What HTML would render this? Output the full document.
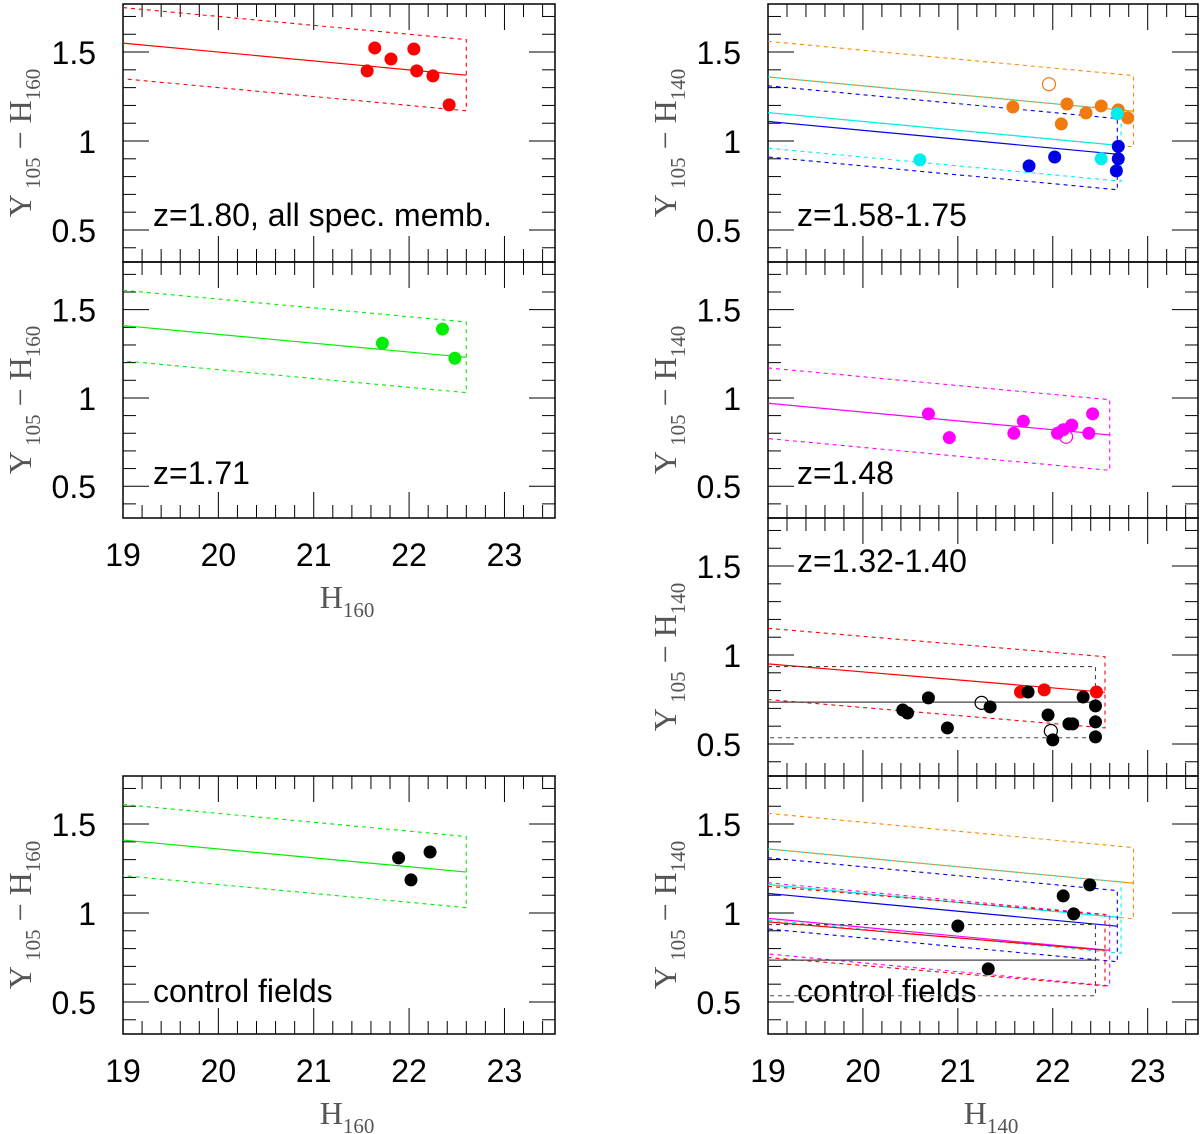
<!DOCTYPE html>
<html><head><meta charset="utf-8">
<style>
html,body{margin:0;padding:0;background:#fff;}
svg{display:block;}
.tk{font-family:"Liberation Sans",sans-serif;font-size:32px;fill:#000;}
.lab{font-family:"Liberation Serif",serif;fill:#555;}
.pl{font-family:"Liberation Sans",sans-serif;font-size:32px;fill:#000;}
</style></head>
<body>
<svg id="fig" width="1200" height="1134" viewBox="0 0 1200 1134" xmlns="http://www.w3.org/2000/svg"></svg>
<script>
// ---- data ----
const xTicks = [19, 20, 21, 22, 23];
const yTicks = [0.5, 1, 1.5];
const xRange = [19, 23.53];
const yRange = [0.32, 1.77];

// red sequences: [intercept at 19, slope, xEnd, halfWidth]
const seqRed180 = [1.55, -0.05, 22.6, 0.2];
const seqGreen171 = [1.41, -0.05, 22.6, 0.2];
const seqOrange = [1.36, -0.05, 22.85, 0.2];
const seqCyan = [1.16, -0.05, 22.72, 0.2];
const seqBlue = [1.11, -0.05, 22.68, 0.2];
const seqMagenta = [0.97, -0.05, 22.6, 0.2];
const seqRed132 = [0.95, -0.045, 22.55, 0.2];
const seqBlack132 = [0.735, 0, 22.45, 0.2];

const p1x = [21.56, 21.64, 21.81, 22.05, 22.08, 22.25, 22.42];
const p1y = [1.394, 1.523, 1.461, 1.517, 1.394, 1.366, 1.203];

const p2x = [21.72, 22.35, 22.48];
const p2y = [1.31, 1.39, 1.225];

const cLx = [21.89, 22.22, 22.02];
const cLy = [1.31, 1.343, 1.186];

const orX = [21.58, 22.15, 22.09, 22.35, 22.51, 22.69, 22.79];
const orY = [1.191, 1.208, 1.096, 1.158, 1.197, 1.175, 1.13];
const orOpenX = [21.96];
const orOpenY = [1.319];
const cyX = [20.6, 22.51, 22.68];
const cyY = [0.894, 0.9, 1.153];
const blX = [21.75, 22.02, 22.69, 22.69, 22.67];
const blY = [0.86, 0.91, 0.97, 0.9, 0.832];

const mgX = [20.69, 20.91, 21.59, 21.69, 22.05, 22.11, 22.2, 22.38, 22.42];
const mgY = [0.91, 0.775, 0.80, 0.868, 0.80, 0.82, 0.846, 0.80, 0.91];
const mgOpenX = [22.14];
const mgOpenY = [0.78];

const bkX = [20.42, 20.47, 20.69, 20.89, 21.34, 21.74, 21.95, 22.0, 22.17, 22.21, 22.32, 22.45, 22.45, 22.45];
const bkY = [0.691, 0.674, 0.759, 0.59, 0.708, 0.792, 0.663, 0.523, 0.613, 0.613, 0.764, 0.714, 0.624, 0.54];
const bkOpenX = [21.25, 21.98];
const bkOpenY = [0.731, 0.573];
const rdX = [21.66, 21.91, 22.46];
const rdY = [0.792, 0.804, 0.792];

const cRx = [22.39, 22.11, 22.22, 21.0, 21.32];
const cRy = [1.158, 1.096, 0.995, 0.927, 0.686];

// ---- drawing ----
const NS = "http://www.w3.org/2000/svg";
const svg = document.getElementById('fig');
function mk(tag, attrs, parent) {
  const e = document.createElementNS(NS, tag);
  for (const k in attrs) e.setAttribute(k, attrs[k]);
  (parent || svg).appendChild(e);
  return e;
}
function panel(name, x0, y0, x1, y1, opts) {
  const g = mk('g', {});
  
  
  const sx = v => x0 + (v - xRange[0]) / (xRange[1] - xRange[0]) * (x1 - x0);
  const sy = v => y1 - (v - yRange[0]) / (yRange[1] - yRange[0]) * (y1 - y0);
  const P = {g, sx, sy, x0, y0, x1, y1};
  const frame = mk('rect', {x: x0, y: y0, width: x1 - x0, height: y1 - y0, fill: 'none', stroke: '#000', 'stroke-width': 1.5}, g);
  
  
  for (let i = 0; i <= 23; i++) {
    const v = 19 + i * 0.2;
    if (v > xRange[1]) break;
    const major = Math.abs(v - Math.round(v)) < 1e-6;
    const L = major ? 26 : 13;
    const px = sx(v);
    mk('line', {x1: px, y1: y1, x2: px, y2: y1 - L, stroke: '#000', 'stroke-width': 1}, g);
    mk('line', {x1: px, y1: y0, x2: px, y2: y0 + L, stroke: '#000', 'stroke-width': 1}, g);
  }
  for (let i = 0; i <= 15; i++) {
    const v = 0.4 + i * 0.1;
    if (v > yRange[1]) break;
    const major = Math.abs(v * 2 - Math.round(v * 2)) < 1e-6;
    const L = major ? 26 : 13;
    const py = sy(v);
    mk('line', {x1: x0, y1: py, x2: x0 + L, y2: py, stroke: '#000', 'stroke-width': 1}, g);
    mk('line', {x1: x1, y1: py, x2: x1 - L, y2: py, stroke: '#000', 'stroke-width': 1}, g);
  }
  yTicks.forEach(v => {
    const t = mk('text', {x: x0 - 27, y: sy(v) + 12, 'text-anchor': 'end', class: 'tk'}, g);
    t.textContent = String(v);
    
    
  });
  if (opts.xlabels) {
    xTicks.forEach(v => {
      const t = mk('text', {x: sx(v), y: y1 + 48, 'text-anchor': 'middle', class: 'tk'}, g);
      t.textContent = String(v);
      
      
    });
    const xl = mk('text', {x: (sx(21.35)), y: y1 + 90, 'text-anchor': 'middle', class: 'lab', 'font-size': 32}, g);
    xl.innerHTML = 'H<tspan font-size="21" dy="9">' + opts.band + '</tspan>';
    
    
  }
  const cy = (y0 + y1) / 2 + 10;
  const yl = mk('text', {x: 0, y: 0, 'text-anchor': 'middle', class: 'lab', 'font-size': 32, transform: 'translate(' + (x0 - 92) + ',' + cy + ') rotate(-90)'}, g);
  yl.innerHTML = 'Y<tspan font-size="21" dy="9"> 105</tspan><tspan dy="-9"> − H</tspan><tspan font-size="21" dy="9">' + opts.band + '</tspan>';
  
  
  const pl = mk('text', {x: opts.lx, y: opts.ly, class: 'pl'}, g);
  pl.textContent = opts.label;
  
  
  return P;
}
function seq(P, s, color, name) {
  const [a, b, xe, w] = s;
  const f = x => a + b * (x - 19);
  const l = mk('line', {x1: P.sx(19), y1: P.sy(f(19)), x2: P.sx(xe), y2: P.sy(f(xe)), stroke: color, 'stroke-width': 1.2}, P.g);
  
  
  const d = 'M' + P.sx(19) + ',' + P.sy(f(19) + w) + ' L' + P.sx(xe) + ',' + P.sy(f(xe) + w) +
    ' L' + P.sx(xe) + ',' + P.sy(f(xe) - w) + ' L' + P.sx(19) + ',' + P.sy(f(19) - w);
  const p = mk('path', {d: d, fill: 'none', stroke: color, 'stroke-width': 1.1, 'stroke-dasharray': '4,4'}, P.g);
  
  
}
function pts(P, xs, ys, color, open, name) {
  xs.forEach((x, i) => {
    const c = mk('circle', {cx: P.sx(x), cy: P.sy(ys[i]), r: 6.5,
      fill: open ? 'none' : color, stroke: color, 'stroke-width': open ? 1.2 : 0}, P.g);
    
    
  });
}

const LX0 = 123, LX1 = 555, RX0 = 768, RX1 = 1198;
let P = panel('panel-z180', LX0, 4, LX1, 262, {band: '160', label: 'z=1.80, all spec. memb.', lx: 153, ly: 226});
seq(P, seqRed180, '#f00', 'red');
pts(P, p1x, p1y, '#f00', false, 'member');

P = panel('panel-z171', LX0, 262, LX1, 518, {band: '160', label: 'z=1.71', lx: 153, ly: 484, xlabels: true});
seq(P, seqGreen171, '#0e0', 'green');
pts(P, p2x, p2y, '#0e0', false, 'member');

P = panel('panel-control-left', LX0, 776, LX1, 1034, {band: '160', label: 'control fields', lx: 153, ly: 1002, xlabels: true});
seq(P, seqGreen171, '#0e0', 'green');
pts(P, cLx, cLy, '#000', false, 'control');

P = panel('panel-z158-175', RX0, 4, RX1, 262, {band: '140', label: 'z=1.58-1.75', lx: 797, ly: 226});
seq(P, seqOrange, '#f80', 'orange');
seq(P, seqCyan, '#0ee', 'cyan');
seq(P, seqBlue, '#00e', 'blue');
pts(P, orX, orY, '#f07a10', false, 'orange');
pts(P, orOpenX, orOpenY, '#f07a10', true, 'orange-open');
pts(P, blX, blY, '#0000e6', false, 'blue');
pts(P, cyX, cyY, '#0ee', false, 'cyan');

P = panel('panel-z148', RX0, 262, RX1, 518, {band: '140', label: 'z=1.48', lx: 797, ly: 484});
seq(P, seqMagenta, '#f0f', 'magenta');
pts(P, mgX, mgY, '#f0f', false, 'magenta');
pts(P, mgOpenX, mgOpenY, '#f0f', true, 'magenta-open');

P = panel('panel-z132-140', RX0, 518, RX1, 776, {band: '140', label: 'z=1.32-1.40', lx: 797, ly: 572});
seq(P, seqRed132, '#f00', 'red');
seq(P, seqBlack132, '#444', 'black');
pts(P, rdX, rdY, '#f00', false, 'red');
pts(P, bkX, bkY, '#000', false, 'black');
pts(P, bkOpenX, bkOpenY, '#000', true, 'black-open');

P = panel('panel-control-right', RX0, 776, RX1, 1034, {band: '140', label: 'control fields', lx: 797, ly: 1002, xlabels: true});
seq(P, seqOrange, '#f80', 'orange');
seq(P, seqCyan, '#0ee', 'cyan');
seq(P, seqBlue, '#00e', 'blue');
seq(P, seqMagenta, '#f0f', 'magenta');
seq(P, seqRed132, '#f00', 'red');
seq(P, seqBlack132, '#444', 'black');
pts(P, cRx, cRy, '#000', false, 'control');
</script>
</body></html>
